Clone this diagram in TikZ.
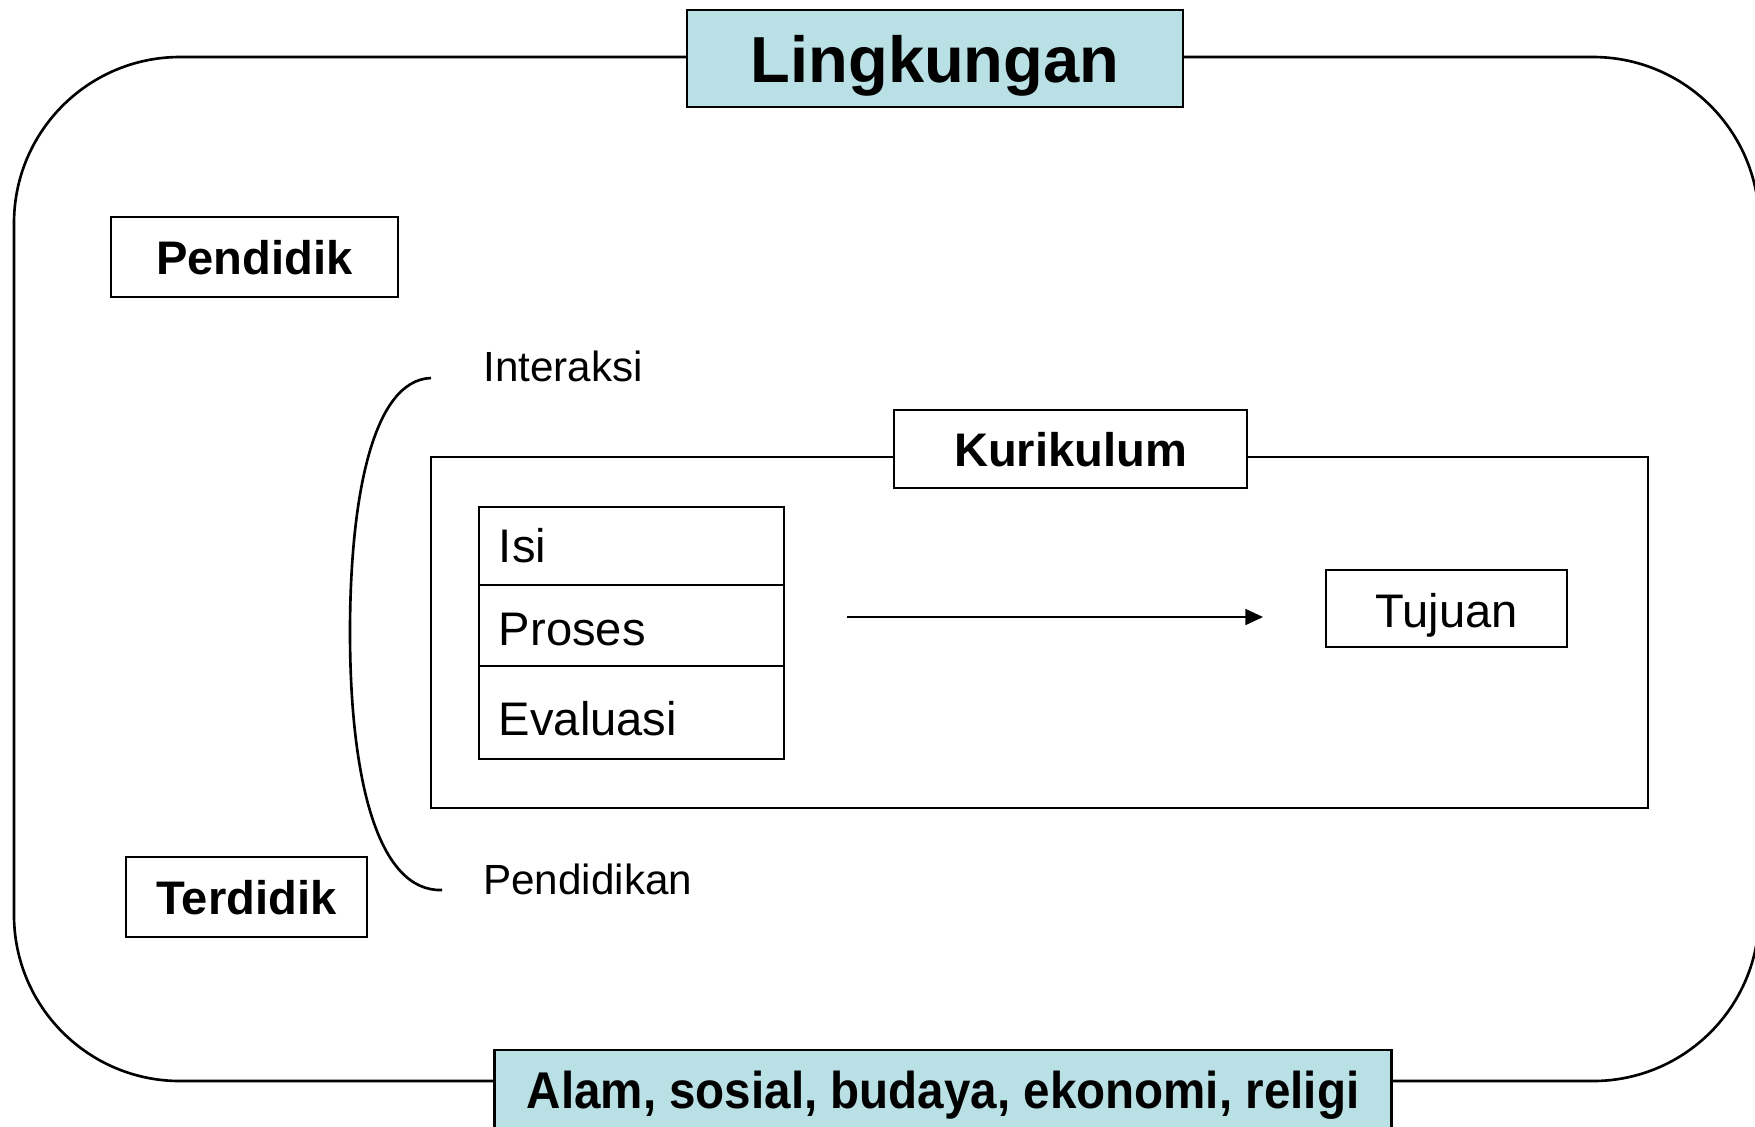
\documentclass[tikz,border=0pt]{standalone}
\usepackage{fontspec}
\setmainfont{Liberation Sans}
\usetikzlibrary{positioning,arrows.meta}
\definecolor{bannercyan}{RGB}{185,224,228}

\begin{document}
\begin{tikzpicture}[x=0.01cm, y=-0.01cm, line width=0.75pt,
    labelbox/.style={draw, fill=white, inner sep=0pt, text depth=0pt,
        font=\fontsize{13.4}{16}\selectfont\bfseries},
    banner/.style={draw, fill=bannercyan, inner sep=0pt, text depth=0pt},
    partbox/.style={draw, inner xsep=0.2cm, inner ysep=0pt, outer sep=0pt,
        text width=2.65cm, text depth=0pt, align=left,
        font=\fontsize{13.4}{16}\selectfont},
    note/.style={anchor=west, inner sep=0pt, font=\fontsize{12}{14}\selectfont}]
    \useasboundingbox (0, 0) rectangle (1755, 1126);
    \clip (0, 0) rectangle (1755, 1126);
    % lingkungan frame
    \draw[rounded corners=1.66cm] (14, 57) rectangle (1759, 1081);
    \node[banner, minimum width=4.96cm, minimum height=0.97cm,
        font=\fontsize{18.5}{22}\selectfont\bfseries] (ling) at(935, 58.5) {Lingkungan};
    \node[banner, minimum width=8.96cm, minimum height=0.80cm,
        font=\fontsize{14.7}{18}\selectfont\bfseries] (alam) at(943, 1090)
        {\scalebox{0.92}[1]{Alam, sosial, budaya, ekonomi, religi}};
    % pendidik, terdidik
    \node[labelbox, minimum width=2.87cm, minimum height=0.80cm] (pendidik) at(254.5, 257) {Pendidik};
    \node[labelbox, minimum width=2.41cm, minimum height=0.80cm] (terdidik) at(246.5, 897) {Terdidik};
    % interaksi pendidikan
    \node[note] (interaksi) at(482, 366) {Interaksi};
    \node[note] (pendidikan) at(482, 879) {Pendidikan};
    \coordinate (brtop) at(431, 378);
    \coordinate (brbot) at(442, 890);
    \draw (brtop) .. controls (372, 380) and (350, 500) .. (350, 632)
        .. controls (350, 780) and (378, 892) .. (brbot);
    % kurikulum
    \draw (431, 457) rectangle (1648, 808);
    \node[labelbox, minimum width=3.53cm, minimum height=0.78cm] (kurikulum) at(1070.5, 449) {Kurikulum};
    \node[partbox, minimum height=0.78cm, text height=0.32cm] (isi) at(631.5, 546) {Isi};
    \node[partbox, minimum height=0.81cm, text height=0.39cm, below=0pt of isi] (proses) {Proses};
    \node[partbox, minimum height=0.93cm, text height=0.45cm, below=0pt of proses] (evaluasi) {Evaluasi};
    \node[draw, inner sep=0pt, text depth=0pt, text height=0.37cm, minimum width=2.41cm,
        minimum height=0.77cm, font=\fontsize{13.4}{16}\selectfont] (tujuan) at(1446.5, 608.5) {Tujuan};
    \coordinate (arrstart) at(847, 617);
    \coordinate (arrend) at(1263, 617);
    \draw[line width=0.6pt, -{Triangle[length=5pt, width=4.5pt]}] (arrstart) -- (arrend);
\end{tikzpicture}
\end{document}
